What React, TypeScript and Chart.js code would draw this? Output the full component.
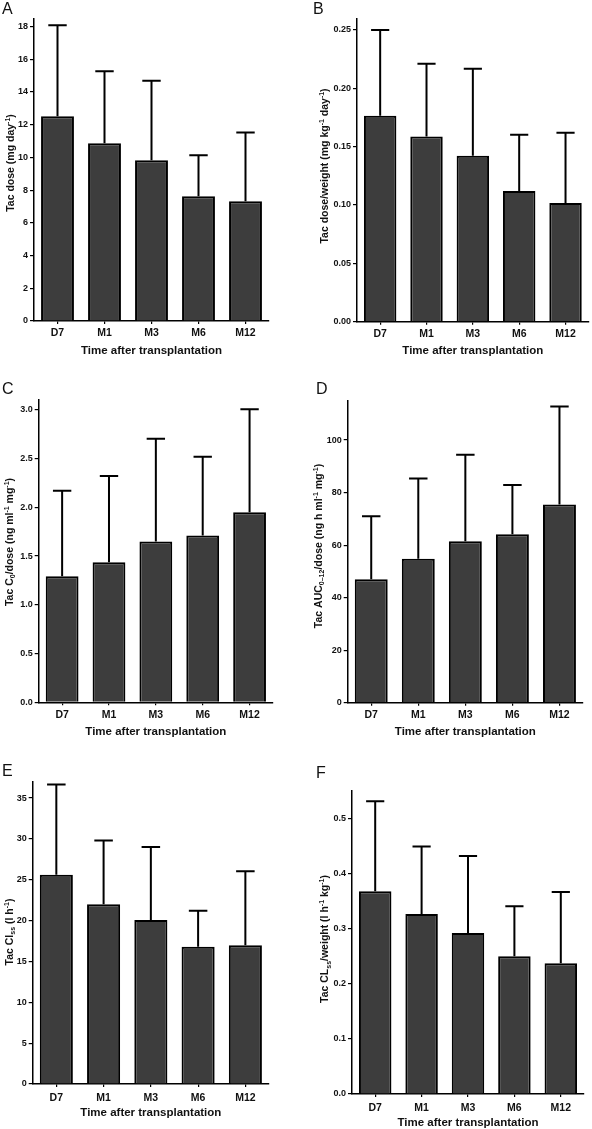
import React, { useEffect, useRef } from 'react';
import { Chart, registerables } from 'chart.js';

Chart.register(...registerables);

// ---------- data ----------
const categories = ['D7', 'M1', 'M3', 'M6', 'M12'];

const doseMean = [12.52, 10.87, 9.83, 7.63, 7.32];
const doseSD = [5.56, 4.4, 4.85, 2.5, 4.2];
const doseTicks = [0, 2, 4, 6, 8, 10, 12, 14, 16, 18];

const doseWtMean = [0.1765, 0.1587, 0.1422, 0.1121, 0.1018];
const doseWtSD = [0.0735, 0.0624, 0.0746, 0.0481, 0.0601];
const doseWtTicks = [0, 0.05, 0.1, 0.15, 0.2, 0.25];

const c0Mean = [1.293, 1.437, 1.649, 1.71, 1.949];
const c0SD = [0.877, 0.883, 1.054, 0.809, 1.057];
const c0Ticks = [0, 0.5, 1.0, 1.5, 2.0, 2.5, 3.0];

const aucMean = [47.0, 54.8, 61.5, 64.1, 75.5];
const aucSD = [24.0, 30.6, 32.9, 18.8, 37.3];
const aucTicks = [0, 20, 40, 60, 80, 100];

const clMean = [25.6, 22.0, 20.06, 16.81, 16.97];
const clSD = [11.07, 7.8, 8.96, 4.39, 9.07];
const clTicks = [0, 5, 10, 15, 20, 25, 30, 35];

const clWtMean = [0.3677, 0.3265, 0.292, 0.2497, 0.237];
const clWtSD = [0.1633, 0.1225, 0.1397, 0.0907, 0.1294];
const clWtTicks = [0, 0.1, 0.2, 0.3, 0.4, 0.5];

const xTitle = 'Time after transplantation';

type Seg = { t: string; s?: 'sup' | 'sub' };

const titleA: Seg[] = [{ t: 'Tac dose (mg day' }, { t: '-1', s: 'sup' }, { t: ')' }];
const titleB: Seg[] = [
  { t: 'Tac dose/weight (mg kg' }, { t: '-1', s: 'sup' }, { t: ' day' }, { t: '-1', s: 'sup' }, { t: ')' },
];
const titleC: Seg[] = [
  { t: 'Tac C' }, { t: '0', s: 'sub' }, { t: '/dose (ng ml' }, { t: '-1', s: 'sup' }, { t: ' mg' }, { t: '-1', s: 'sup' }, { t: ')' },
];
const titleD: Seg[] = [
  { t: 'Tac AUC' }, { t: '0–12', s: 'sub' }, { t: '/dose (ng h ml' }, { t: '-1', s: 'sup' }, { t: ' mg' }, { t: '-1', s: 'sup' }, { t: ')' },
];
const titleE: Seg[] = [{ t: 'Tac Cl' }, { t: 'ss', s: 'sub' }, { t: ' (l h' }, { t: '-1', s: 'sup' }, { t: ')' }];
const titleF: Seg[] = [
  { t: 'Tac CL' }, { t: 'ss', s: 'sub' }, { t: '/weight (l h' }, { t: '-1', s: 'sup' }, { t: ' kg' }, { t: '-1', s: 'sup' }, { t: ')' },
];

// ---------- layout / style ----------
const FONT = '"Liberation Sans", Arial, Helvetica, sans-serif';
const INK = '#111111';
const BAR_FILL = '#3d3d3d';

type PanelCfg = {
  letter: string;
  means: number[];
  sds: number[];
  ticks: number[];
  max: number;
  dec: number;
  title: Seg[];
  box: { x: number; y: number; w: number; h: number };
  area: { l: number; r: number; t: number; b: number };
  yTitle: { x: number; y: number };
  xTickY: number;
  xTitleY: number;
  letterPos: { x: number; y: number };
};

const panels: PanelCfg[] = [
  {
    letter: 'A', means: doseMean, sds: doseSD, ticks: doseTicks, max: 18.5, dec: 0, title: titleA,
    box: { x: 0, y: 0, w: 296, h: 365 }, area: { l: 34, r: 269, t: 18.3, b: 321 },
    yTitle: { x: 10, y: 163 }, xTickY: 333.5, xTitleY: 351, letterPos: { x: 2, y: 1 },
  },
  {
    letter: 'B', means: doseWtMean, sds: doseWtSD, ticks: doseWtTicks, max: 0.26, dec: 2, title: titleB,
    box: { x: 296, y: 0, w: 296, h: 365 }, area: { l: 357, r: 588.7, t: 18.3, b: 321.7 },
    yTitle: { x: 324.5, y: 166 }, xTickY: 334, xTitleY: 351, letterPos: { x: 313, y: 1 },
  },
  {
    letter: 'C', means: c0Mean, sds: c0SD, ticks: c0Ticks, max: 3.1, dec: 1, title: titleC,
    box: { x: 0, y: 370, w: 296, h: 375 }, area: { l: 38.7, r: 273, t: 400, b: 702.3 },
    yTitle: { x: 9, y: 542 }, xTickY: 715, xTitleY: 731.7, letterPos: { x: 2, y: 381 },
  },
  {
    letter: 'D', means: aucMean, sds: aucSD, ticks: aucTicks, max: 115, dec: 0, title: titleD,
    box: { x: 296, y: 370, w: 296, h: 375 }, area: { l: 347.7, r: 583, t: 400.7, b: 702.7 },
    yTitle: { x: 318, y: 546 }, xTickY: 715, xTitleY: 731.7, letterPos: { x: 316, y: 381 },
  },
  {
    letter: 'E', means: clMean, sds: clSD, ticks: clTicks, max: 37, dec: 0, title: titleE,
    box: { x: 0, y: 750, w: 296, h: 379 }, area: { l: 32.7, r: 269, t: 781.7, b: 1084 },
    yTitle: { x: 9, y: 932 }, xTickY: 1098, xTitleY: 1113, letterPos: { x: 2, y: 763 },
  },
  {
    letter: 'F', means: clWtMean, sds: clWtSD, ticks: clWtTicks, max: 0.55, dec: 1, title: titleF,
    box: { x: 296, y: 750, w: 296, h: 379 }, area: { l: 352, r: 584, t: 790.7, b: 1094 },
    yTitle: { x: 324.5, y: 939 }, xTickY: 1108, xTitleY: 1123, letterPos: { x: 316, y: 765 },
  },
];

const MAIN_SIZE = 10.5;
const SMALL_SIZE = 7;

function errorBarPlugin(sds: number[]) {
  return {
    id: 'errorBars',
    afterDatasetsDraw(chart: any) {
      const meta = chart.getDatasetMeta(0);
      const yScale = chart.scales.y;
      const ctx = chart.ctx as CanvasRenderingContext2D;
      const vals = chart.data.datasets[0].data as number[];
      ctx.save();
      ctx.strokeStyle = '#000';
      ctx.lineWidth = 2;
      ctx.lineCap = 'butt';
      meta.data.forEach((bar: any, i: number) => {
        const p = bar.getProps(['x', 'y', 'width'], true);
        const yEnd = yScale.getPixelForValue(vals[i] + sds[i]);
        const cap = p.width * 0.56;
        ctx.beginPath();
        ctx.moveTo(p.x, p.y);
        ctx.lineTo(p.x, yEnd);
        ctx.moveTo(p.x - cap / 2, yEnd);
        ctx.lineTo(p.x + cap / 2, yEnd);
        ctx.stroke();
      });
      ctx.restore();
    },
  };
}

function yTitlePlugin(segs: Seg[], cx: number, cy: number) {
  return {
    id: 'richYTitle',
    afterDraw(chart: any) {
      const ctx = chart.ctx as CanvasRenderingContext2D;
      const mainFont = `bold ${MAIN_SIZE}px ${FONT}`;
      const smallFont = `bold ${SMALL_SIZE}px ${FONT}`;
      ctx.save();
      ctx.translate(cx, cy);
      ctx.rotate(-Math.PI / 2);
      ctx.fillStyle = INK;
      ctx.textBaseline = 'alphabetic';
      ctx.textAlign = 'left';
      let total = 0;
      const widths = segs.map((s) => {
        ctx.font = s.s ? smallFont : mainFont;
        const w = ctx.measureText(s.t).width;
        total += w;
        return w;
      });
      let x = -total / 2;
      const base = MAIN_SIZE * 0.36;
      segs.forEach((s, i) => {
        ctx.font = s.s ? smallFont : mainFont;
        const dy = s.s === 'sup' ? -4 : s.s === 'sub' ? 2.5 : 0;
        ctx.fillText(s.t, x, base + dy);
        x += widths[i];
      });
      ctx.restore();
    },
  };
}

function Panel({ cfg }: { cfg: PanelCfg }) {
  const ref = useRef<HTMLCanvasElement | null>(null);

  useEffect(() => {
    if (!ref.current) return;
    const { box, area } = cfg;
    const xTickFont = 10.5;
    const xTitleFont = 11.5;
    const xTickPad = cfg.xTickY - area.b - 3 - (xTickFont * 1.2) / 2;
    const xTitlePadBottom = box.y + box.h - cfg.xTitleY - (xTitleFont * 1.2) / 2;

    const chart = new Chart(ref.current, {
      type: 'bar',
      data: {
        labels: categories,
        datasets: [
          {
            data: cfg.means,
            backgroundColor: BAR_FILL,
            borderColor: '#000',
            borderWidth: 2,
            barPercentage: 0.7,
            categoryPercentage: 1,
          },
        ],
      },
      options: {
        responsive: false,
        animation: false,
        devicePixelRatio: 1,
        layout: {
          padding: {
            left: 0,
            right: box.x + box.w - area.r,
            top: area.t - box.y,
            bottom: 0,
          },
        },
        plugins: {
          legend: { display: false },
          tooltip: { enabled: false },
          title: { display: false },
        },
        scales: {
          x: {
            type: 'category',
            offset: true,
            grid: {
              display: true,
              drawOnChartArea: false,
              drawTicks: true,
              tickLength: 3,
              offset: false,
              color: '#000',
              lineWidth: 1.2,
            },
            border: { display: true, color: '#000', width: 1.5 },
            ticks: {
              color: INK,
              font: { family: FONT, size: xTickFont, weight: 'bold' },
              padding: xTickPad,
              maxRotation: 0,
              autoSkip: false,
            },
            title: {
              display: true,
              text: xTitle,
              color: INK,
              font: { family: FONT, size: xTitleFont, weight: 'bold' },
              padding: { top: 0, bottom: xTitlePadBottom },
            },
            afterFit: (s: any) => {
              s.height = box.y + box.h - area.b;
            },
          },
          y: {
            type: 'linear',
            min: 0,
            max: cfg.max,
            grid: {
              display: true,
              drawOnChartArea: false,
              drawTicks: true,
              tickLength: 4,
              color: '#000',
              lineWidth: 1.2,
            },
            border: { display: true, color: '#000', width: 1.5 },
            afterBuildTicks: (s: any) => {
              s.ticks = cfg.ticks.map((v) => ({ value: v }));
            },
            ticks: {
              color: INK,
              font: { family: FONT, size: 9, weight: 'bold' },
              padding: 2,
              callback: (v: any) => Number(v).toFixed(cfg.dec),
            },
            afterFit: (s: any) => {
              s.width = area.l - box.x;
            },
          },
        },
      } as any,
      plugins: [errorBarPlugin(cfg.sds), yTitlePlugin(cfg.title, cfg.yTitle.x - box.x, cfg.yTitle.y - box.y)],
    });
    return () => chart.destroy();
  }, [cfg]);

  return (
    <>
      <canvas
        ref={ref}
        width={cfg.box.w}
        height={cfg.box.h}
        style={{
          position: 'absolute',
          left: cfg.box.x,
          top: cfg.box.y,
          width: cfg.box.w,
          height: cfg.box.h,
          display: 'block',
        }}
      />
      <div
        style={{
          position: 'absolute',
          left: cfg.letterPos.x,
          top: cfg.letterPos.y,
          fontFamily: FONT,
          fontSize: 16,
          lineHeight: '16px',
          color: INK,
        }}
      >
        {cfg.letter}
      </div>
    </>
  );
}

export default function App() {
  return (
    <div
      style={{
        position: 'absolute',
        left: 0,
        top: 0,
        width: 592,
        height: 1129,
        background: '#ffffff',
        overflow: 'hidden',
      }}
    >
      {panels.map((p) => (
        <Panel key={p.letter} cfg={p} />
      ))}
    </div>
  );
}
